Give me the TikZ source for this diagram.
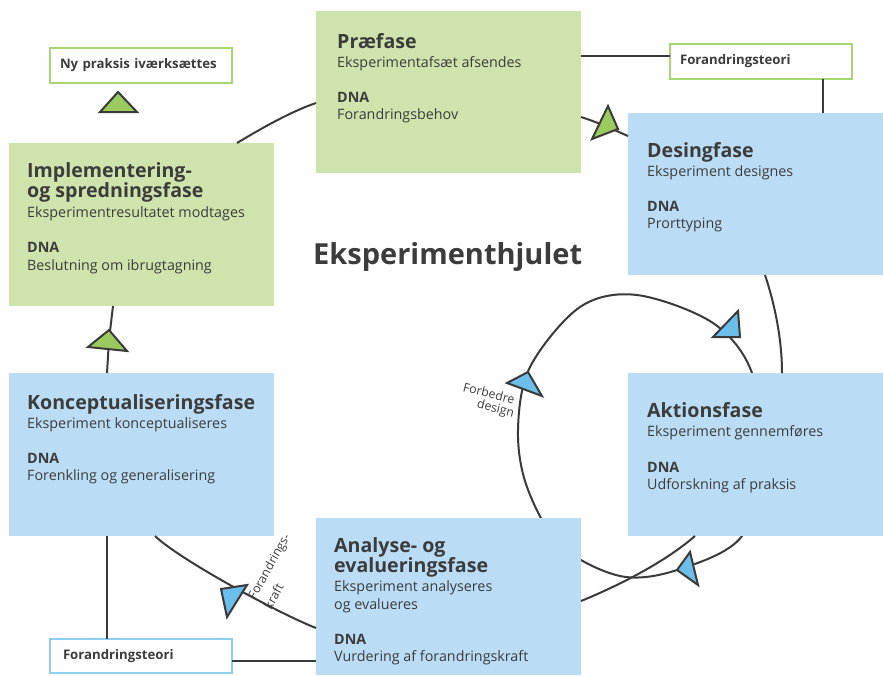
\documentclass[tikz,border=0pt]{standalone}
\usepackage{fontspec}
\setmainfont{Open Sans}
\usetikzlibrary{calc}
\definecolor{gboxc}{HTML}{CFE3AD}
\definecolor{bboxc}{HTML}{BADDF5}
\definecolor{tgreen}{HTML}{9BCB5F}
\definecolor{tblue}{HTML}{6BBFEA}
\definecolor{sgreen}{HTML}{A8D66F}
\definecolor{sblue}{HTML}{8CCFF0}
\definecolor{txt}{HTML}{3C3C3C}
\definecolor{wirec}{HTML}{3A3A3A}
\begin{document}
\begin{tikzpicture}[x=1pt,y=-1pt,
  phase/.style={inner sep=0pt, outer sep=0pt, anchor=north west, draw=none},
  gphase/.style={phase, fill=gboxc},
  bphase/.style={phase, fill=bboxc},
  head/.style={anchor=base west, inner sep=0pt, text=txt, font=\fontsize{19.6}{19.6}\selectfont\bfseries},
  sub/.style={anchor=base west, inner sep=0pt, text=txt, font=\fontsize{14.3}{14.3}\selectfont},
  dna/.style={anchor=base west, inner sep=0pt, text=txt, font=\fontsize{14.3}{14.3}\selectfont\bfseries},
  sbox/.style={anchor=north west, fill=white, line width=1.1pt, inner ysep=0pt, outer sep=0pt, minimum height=35pt, align=left, text=txt, font=\fontsize{13.2}{13.2}\selectfont\bfseries},
  wire/.style={draw=wirec, line width=2pt},
  tri/.style={draw=wirec, line width=2pt, line join=miter, fill=#1},
  lab/.style={inner sep=0pt, text=txt, font=\fontsize{12.3}{12.3}\selectfont}
]
\useasboundingbox (0,0) rectangle (883,675);

% inner loop (behind boxes)
\draw[wire] plot[smooth cycle, tension=0.55] coordinates {(637,295) (713,323) (752,373) (760,455) (742,536) (677,570) (620,576) (560,545) (527,487) (518,430) (530,367) (580,307)};

% phase boxes
\node[gphase, minimum width=265pt, minimum height=162pt] (pre) at (316,11) {};
\node[bphase, minimum width=255pt, minimum height=162pt] (des) at (628,113) {};
\node[gphase, minimum width=265pt, minimum height=163pt] (imp) at (9,143) {};
\node[bphase, minimum width=265pt, minimum height=163pt] (kon) at (9,373) {};
\node[bphase, minimum width=255pt, minimum height=163pt] (akt) at (628,373) {};
\node[bphase, minimum width=265pt, minimum height=157pt] (ana) at (316,518) {};

% small boxes
\node[sbox, draw=sgreen, inner xsep=10pt, text width=162pt] (ny) at (50,48) {Ny praksis iværksættes};
\node[sbox, draw=sgreen, inner xsep=10pt, text width=162pt] (ft1) at (670,44) {Forandringsteori};
\node[sbox, draw=sblue, inner xsep=13pt, text width=156pt, minimum height=34pt] (ft2) at (50,639) {Forandringsteori};

% wheel connectors
\draw[wire] ($(imp.north west)+(228,0)$) .. controls (262,128) and (290,112) .. ($(pre.north west)+(0,92)$);
\draw[wire] ($(pre.north east)+(0,106)$) .. controls (597,122) and (612,129) .. ($(des.north west)+(0,23)$);
\draw[wire] ($(des.south west)+(137,0)$) .. controls (775,305) and (782,340) .. ($(akt.north west)+(154,0)$);
\draw[wire] ($(akt.south west)+(67,0)$) .. controls (665,562) and (620,585) .. ($(ana.north east)+(0,83)$);
\draw[wire] ($(ana.north west)+(0,110)$) .. controls (280,614) and (180,560) .. ($(kon.south west)+(146,0)$);
\draw[wire] ($(kon.north west)+(98,0)$) -- (109,340) -- ($(imp.south west)+(104,0)$);
\draw[wire] (ft1.west |- 0,56) -- (pre.east |- 0,56);
\draw[wire] (ft1.south -| 823,0) -- (des.north -| 823,0);
\draw[wire] (kon.south -| 107,0) -- (ft2.north -| 107,0);
\draw[wire] (ft2.east |- 0,661) -- (ana.west |- 0,661);

% triangles
\draw[tri=tgreen] (100,112) -- (137,112) -- (118,92) -- cycle;
\draw[tri=tgreen] (88,347) -- (127,351) -- (109,330) -- cycle;
\draw[tri=tgreen] (608,106) -- (592,139) -- (618,129) -- cycle;
\draw[tri=tblue] (221,589) -- (247,585) -- (227,617) -- cycle;
\draw[tri=tblue] (507,383) -- (528,372) -- (542,396) -- cycle;
\draw[tri=tblue] (738,311) -- (713,337) -- (740,337) -- cycle;
\draw[tri=tblue] (690,552) -- (698,585) -- (677,570) -- cycle;

% labels on loops
\node[lab, rotate=61] (fk1) at (270,567) {Forandrings-};
\node[lab, rotate=61, anchor=west] (fk2) at (267,608) {kraft};
\node[lab, rotate=-14] (fd1) at (489,393) {Forbedre};
\node[lab, rotate=-14, anchor=east] (fd2) at (514,414) {design};

% title
\node[anchor=base west, inner sep=0pt, text=txt, font=\fontsize{29}{29}\selectfont\bfseries] (title) at (313,264) {Eksperimenthjulet};

% Præfase
\node[head] (preH) at (337,48) {Præfase};
\node[sub] (preS) at (337,67) {Eksperimentafsæt afsendes};
\node[dna] (preD) at (337,102) {DNA};
\node[sub] (preT) at (337,119) {Forandringsbehov};
% Desingfase
\node[head] (desH) at (647,157) {Desingfase};
\node[sub] (desS) at (647,176) {Eksperiment designes};
\node[dna] (desD) at (647,211) {DNA};
\node[sub] (desT) at (647,228) {Prorttyping};
% Aktionsfase
\node[head] (aktH) at (647,417) {Aktionsfase};
\node[sub] (aktS) at (647,436) {Eksperiment gennemføres};
\node[dna] (aktD) at (647,472) {DNA};
\node[sub] (aktT) at (647,489) {Udforskning af praksis};
% Implementering
\node[head] (impH1) at (27,177) {Implementering-};
\node[head] (impH2) at (27,197) {og spredningsfase};
\node[sub] (impS) at (27,217) {Eksperimentresultatet modtages};
\node[dna] (impD) at (27,252) {DNA};
\node[sub] (impT) at (27,270) {Beslutning om ibrugtagning};
% Konceptualisering
\node[head] (konH) at (27,409) {Konceptualiseringsfase};
\node[sub] (konS) at (27,428) {Eksperiment konceptualiseres};
\node[dna] (konD) at (27,463) {DNA};
\node[sub] (konT) at (27,480) {Forenkling og generalisering};
% Analyse
\node[head] (anaH1) at (334,552) {Analyse- og};
\node[head] (anaH2) at (334,572) {evalueringsfase};
\node[sub] (anaS1) at (334,591) {Eksperiment analyseres};
\node[sub] (anaS2) at (334,609) {og evalueres};
\node[dna] (anaD) at (334,644) {DNA};
\node[sub] (anaT) at (334,661) {Vurdering af forandringskraft};
\end{tikzpicture}
\end{document}
